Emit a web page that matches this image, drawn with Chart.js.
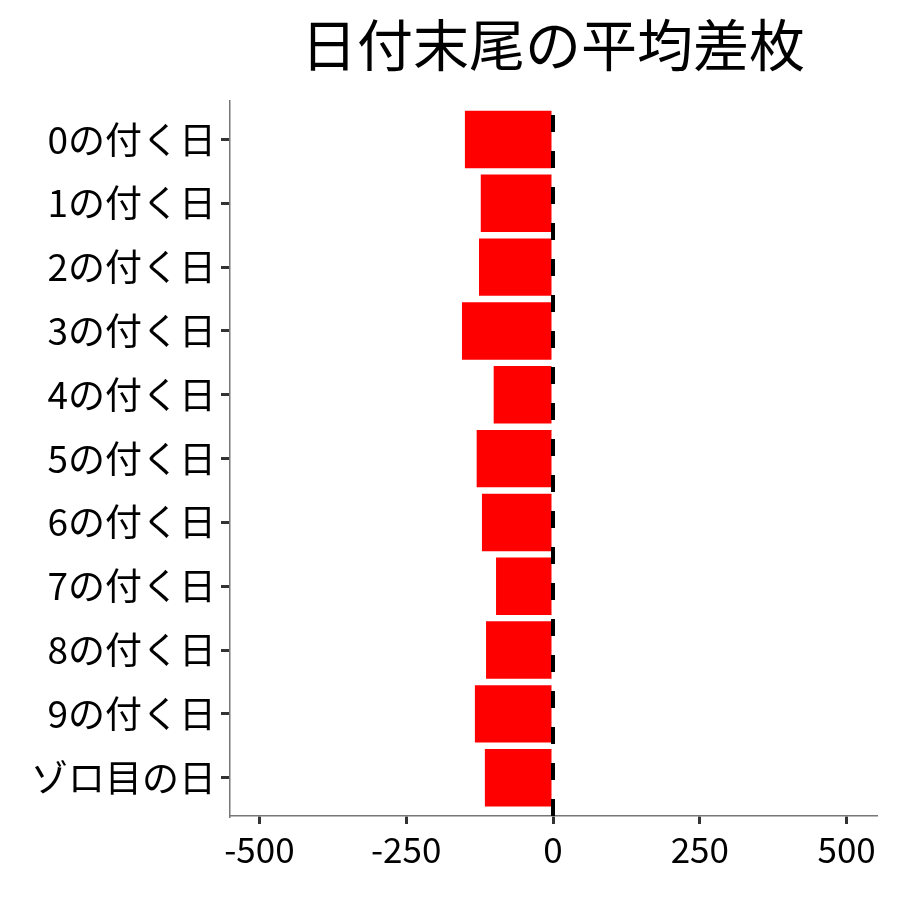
<!DOCTYPE html>
<html>
<head>
<meta charset="utf-8">
<script src="https://cdn.jsdelivr.net/npm/chart.js@4.4.1/dist/chart.umd.min.js"></script>
<style>
  html, body { margin: 0; padding: 0; background: #fff; }
  #wrap { width: 900px; height: 900px; }
</style>
</head>
<body>
<div id="wrap"><canvas id="DiffChart"></canvas></div>
<script>
var dayLabels = ['0の付く日', '1の付く日', '2の付く日', '3の付く日', '4の付く日',
                 '5の付く日', '6の付く日', '7の付く日', '8の付く日', '9の付く日', 'ゾロ目の日'];
var avgDiff = [-150, -123, -126, -155, -101, -130, -121, -97, -114, -133, -116];
var xTicks = [-500, -250, 0, 250, 500];

var FONT = '"Noto Sans CJK JP", "Noto Sans", sans-serif';

// dashed reference line at x = 0
var zeroLine = {
    id: 'zeroLine',
    afterDatasetsDraw: function (chart) {
        var ctx = chart.ctx, area = chart.chartArea;
        var x = chart.scales.x.getPixelForValue(0);
        ctx.save();
        ctx.strokeStyle = '#000';
        ctx.lineWidth = 4;
        ctx.setLineDash([17, 19]);
        ctx.beginPath();
        ctx.moveTo(x, area.bottom);
        ctx.lineTo(x, area.top);
        ctx.stroke();
        ctx.restore();
    }
};

new Chart(document.getElementById('DiffChart'), {
    type: 'bar',
    data: {
        datasets: [{
            data: avgDiff.map(function (v, i) { return { x: v, y: i }; }),
            backgroundColor: '#ff0000',
            borderWidth: 0,
            barPercentage: 0.9,
            categoryPercentage: 1
        }]
    },
    options: {
        indexAxis: 'y',
        responsive: true,
        maintainAspectRatio: false,
        animation: false,
        layout: { padding: { left: 0, right: 24, top: 11, bottom: 24 } },
        plugins: {
            legend: { display: false },
            tooltip: { enabled: false },
            title: {
                display: true,
                text: '日付末尾の平均差枚',
                fullSize: false,
                color: '#000',
                font: { family: FONT, size: 56, weight: 'normal' },
                padding: { top: 0, bottom: 23 }
            }
        },
        scales: {
            x: {
                type: 'linear',
                min: -550,
                max: 550,
                afterBuildTicks: function (s) {
                    s.ticks = xTicks.map(function (v) { return { value: v }; });
                },
                grid: { drawOnChartArea: false, drawTicks: true, tickLength: 8, color: '#333', lineWidth: 3 },
                border: { color: '#777', width: 1.5 },
                ticks: {
                    color: '#000',
                    padding: 5,
                    font: { family: FONT, size: 35 }
                }
            },
            y: {
                type: 'linear',
                reverse: true,
                offset: false,
                min: -0.6,
                max: 10.6,
                afterBuildTicks: function (s) {
                    s.ticks = dayLabels.map(function (l, i) { return { value: i }; });
                },
                afterFit: function (s) { s.width = 230; },
                grid: { offset: false, drawOnChartArea: false, drawTicks: true, tickLength: 9, color: '#333', lineWidth: 3 },
                border: { color: '#777', width: 1.5 },
                ticks: {
                    color: '#000',
                    padding: 5,
                    autoSkip: false,
                    font: { family: FONT, size: 37 },
                    callback: function (v) { return dayLabels[v]; }
                }
            }
        }
    },
    plugins: [zeroLine]
});
</script>
</body>
</html>
